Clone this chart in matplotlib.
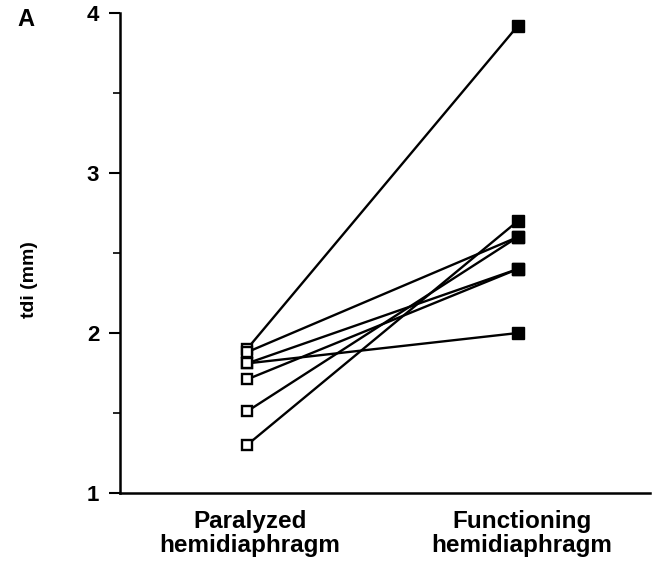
import matplotlib
matplotlib.use("Agg")
import matplotlib.pyplot as plt
from matplotlib.ticker import MultipleLocator

plt.rcParams['font.family'] = ['Liberation Sans', 'DejaVu Sans']

categories = ["Paralyzed\nhemidiaphragm", "Functioning\nhemidiaphragm"]
paralyzed = [1.90, 1.88, 1.81, 1.81, 1.71, 1.51, 1.30]
functioning = [3.92, 2.60, 2.00, 2.40, 2.40, 2.60, 2.70]
yticks = [1, 2, 3, 4]

fig = plt.figure(figsize=(6.54, 5.65), dpi=100)
ax = fig.add_axes([0.1835, 0.1274, 0.81, 0.8496])

for p, f in zip(paralyzed, functioning):
    ax.plot([0, 1], [p, f], color='black', lw=1.7, zorder=1)
ax.plot([0] * len(paralyzed), paralyzed, linestyle='none', marker='s',
        markersize=7.2, markerfacecolor='white', markeredgecolor='black',
        markeredgewidth=1.7, zorder=3)
ax.plot([1] * len(functioning), functioning, linestyle='none', marker='s',
        markersize=8.6, markerfacecolor='black', markeredgecolor='black', zorder=3)

ax.set_xlim(-0.469, 1.487)
ax.set_ylim(1, 4)
ax.set_yticks(yticks)
ax.set_yticklabels([str(t) for t in yticks], fontweight='bold', fontsize=16)
ax.yaxis.set_minor_locator(MultipleLocator(0.5))
ax.tick_params(axis='y', which='major', length=8, width=1.5, direction='out', pad=7)
ax.tick_params(axis='y', which='minor', length=5, width=1.2, direction='out')
ax.set_xticks([])
for s in ['top', 'right']:
    ax.spines[s].set_visible(False)
for s in ['left', 'bottom']:
    ax.spines[s].set_linewidth(1.8)

xoffs = [0.01, 0.015]
for i, c in enumerate(categories):
    ax.text(i + xoffs[i], -0.035, c, ha='center', va='top', fontsize=17.5,
            fontweight='bold', linespacing=1.05, transform=ax.get_xaxis_transform())

fig.text(0.045, 0.505, "tdi (mm)", rotation=90, ha='center', va='center',
         fontsize=14, fontweight='bold')
fig.text(0.04, 0.966, "A", ha='center', va='center', fontsize=17, fontweight='bold')

fig.savefig("out.png", dpi=100)
